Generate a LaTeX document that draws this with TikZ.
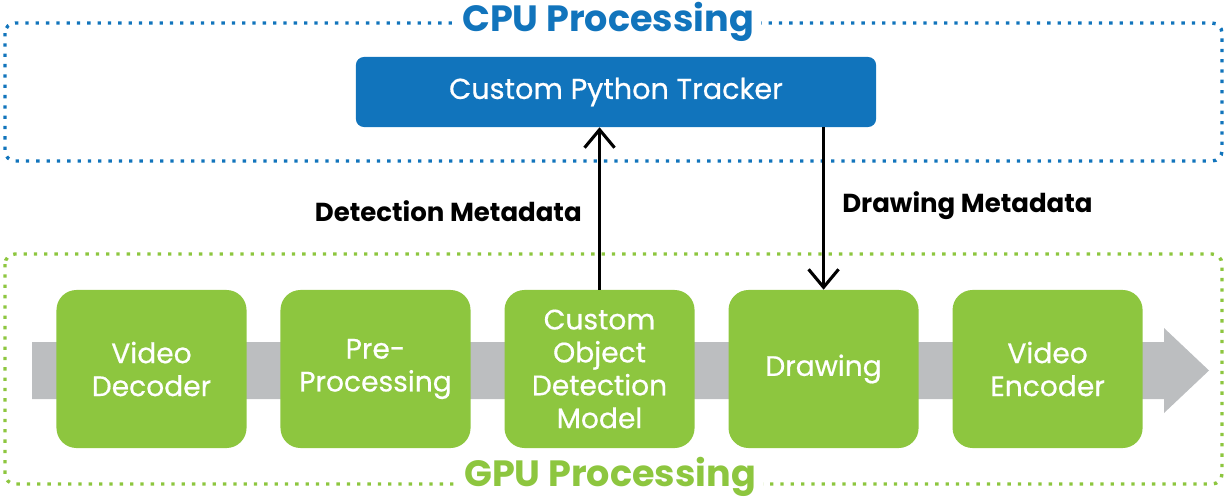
\documentclass[tikz,border=0pt]{standalone}
\usepackage{fontspec}
\setmainfont{Poppins}
\newfontfamily\medfont[FakeBold=0.6]{Poppins}
\usepackage{tikz}
\usetikzlibrary{positioning,arrows.meta}

\definecolor{cpublue}{HTML}{1174BC}
\definecolor{gpugreen}{HTML}{8DC63F}
\definecolor{flowgrey}{HTML}{BCBEC0}

\begin{document}
\begin{tikzpicture}[x=0.025cm, y=-0.025cm, node distance={0.835cm},
		stage/.style = {fill=gpugreen, rounded corners=0.5cm, text=white, align=center,
			minimum width=4.75cm, minimum height=3.95cm, inner sep=0pt,
			font=\medfont\fontsize{20}{23.4}\selectfont},
		tracker/.style = {fill=cpublue, rounded corners=0.2cm, text=white,
			minimum width=13cm, minimum height=1.75cm, font=\medfont\fontsize{20.4}{24}\selectfont},
		frame/.style = {line width=2.4pt, dash pattern=on 0.083cm off 0.175cm, rounded corners=0.25cm},
		title/.style = {fill=white, inner xsep=5pt, inner ysep=0pt, font=\bfseries\fontsize{26}{30}\selectfont},
		meta/.style = {font=\bfseries\fontsize{18.5}{22}\selectfont, inner sep=0pt},
		flow/.style = {line width=2.2pt, -{Straight Barb[length=0.45cm, width=0.75cm, line width=2.2pt]}}]
		\useasboundingbox (0,0) rectangle (1225,500);
		
		% frames
		\draw[frame, cpublue] (5,23) rectangle (1222,161);
		\draw[frame, gpugreen] (5,254) rectangle (1222,484);
		\node[title, text=cpublue] (cpu) at (608,22) {CPU Processing};
		\node[title, text=gpugreen] (gpu) at (610,477) {GPU Processing};
		
		% pipeline band
		\fill[flowgrey] (32,342) -- (1164,342) -- (1164,328) -- (1209,370.5) -- (1164,413) -- (1164,399) -- (32,399) -- cycle;
		
		\node[tracker] (trk) at (616,92) {Custom Python Tracker};
		
		\node[stage] (dec) at (151.5,369) {Video\\Decoder};
		\node[stage] (pre) [right=of dec] {Pre-\\Processing};
		\node[stage] (det) [right=of pre] {Custom\\Object\\Detection\\Model};
		\node[stage] (drw) [right=of det] {Drawing};
		\node[stage] (enc) [right=of drw] {Video\\Encoder};
		
		\draw[flow] (det.north) -- (det.north |- trk.south);
		\draw[flow] (drw.north |- trk.south) -- (drw.north);
		\node[meta, anchor=east] (detmeta) at (582,211) {Detection Metadata};
		\node[meta, anchor=west] (drwmeta) at (842,206) {Drawing Metadata};
	\end{tikzpicture}
\end{document}
